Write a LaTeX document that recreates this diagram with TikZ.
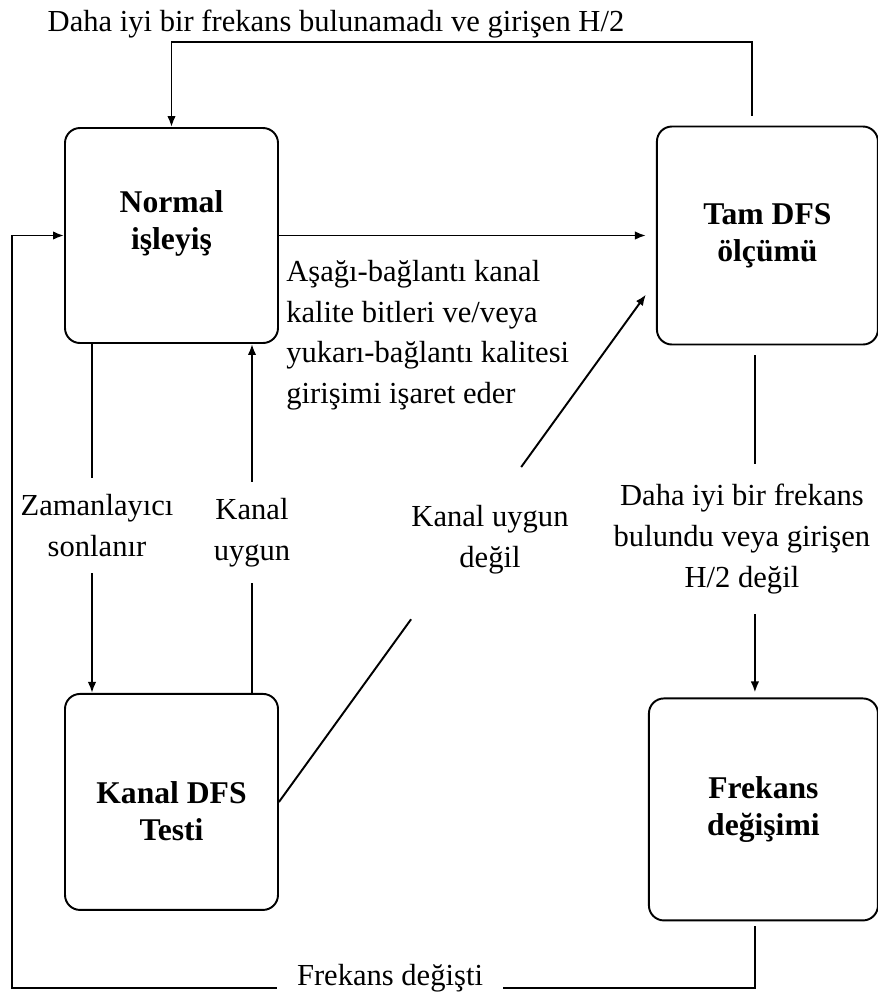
\documentclass[tikz,border=0pt]{standalone}
\usepackage{fontspec}
\setmainfont{Liberation Serif}
\usetikzlibrary{positioning, arrows.meta}

\begin{document}
\begin{tikzpicture}[
        every node/.style={font=\fontsize{17.4}{23.3}\selectfont},
        state/.style={rectangle, draw, line width=1.1pt, rounded corners=0.3cm, align=center, font=\fontsize{18}{21}\selectfont\bfseries, minimum width=4.26cm, minimum height=4.3cm},
        edge/.style={-{Latex[length=0.22cm, width=0.17cm]}, line width=1.1pt},
        line/.style={line width=1.1pt},
        lbl/.style={fill=white, align=center, inner xsep=0.1cm}
    ]
        \useasboundingbox (0,0) rectangle (17.56,-20.02);
        % States
        \node[state, text depth=0.62cm] (normal) at (3.43,-4.71) {Normal\\işleyiş};
        \node[state, right=7.54cm of normal, minimum width=4.42cm, minimum height=4.36cm] (tam) {Tam DFS\\ölçümü};
        \node[state, below=6.98cm of normal, minimum height=4.32cm, text height=1.55cm] (kanal) {Kanal DFS\\Testi};
        \node[state, below=7.04cm of tam, xshift=-0.08cm, minimum width=4.58cm, minimum height=4.44cm] (frek) {Frekans\\değişimi};
        % Normal -> Tam
        \draw[edge, shorten >=0.2cm] (normal.east) -- (tam.west);
        \node[anchor=north west, align=left, inner sep=0] (dqlbl) at (5.72,-5.19) {Aşağı-bağlantı kanal\\kalite bitleri ve/veya\\yukarı-bağlantı kalitesi\\girişimi işaret eder};
        % Tam -> Normal, over the top
        \coordinate (ctop) at (3.43,-0.84);
        \draw[edge, shorten <=0.2cm] ([xshift=-0.31cm]tam.north) |- (ctop) -- (normal.north);
        \node (toplbl) at (6.72,-0.49) {Daha iyi bir frekans bulunamadı ve girişen H/2};
        % Normal <-> Kanal
        \draw[edge] ([xshift=-1.59cm]normal.south) -- node[lbl, pos=.52, inner ysep=0.32cm, xshift=0.1cm] {Zamanlayıcı\\sonlanır} ([xshift=-1.59cm]kanal.north);
        \draw[edge] ([xshift=1.61cm]kanal.north) -- node[lbl, pos=.46, inner ysep=0.32cm] {Kanal\\uygun} ([xshift=1.61cm]normal.south);
        % Kanal -> Tam, diagonal
        \coordinate (dtip) at ([xshift=-0.2cm, yshift=-1.18cm]tam.west);
        \path (kanal.east) -- coordinate[pos=.36] (dlo) coordinate[pos=.66] (dhi) (dtip);
        \draw[line] (kanal.east) -- (dlo);
        \draw[edge] (dhi) -- (dtip);
        \node[align=center] (dlbl) at (9.8,-10.8) {Kanal uygun\\değil};
        % Tam -> Frekans
        \draw[edge, shorten <=0.2cm, shorten >=0.1cm] ([xshift=-0.25cm]tam.south) -- node[lbl, pos=.55, inner ysep=0.4cm, xshift=-0.26cm] {Daha iyi bir frekans\\bulundu veya girişen\\H/2 değil} ([xshift=-0.25cm]tam.south |- frek.north);
        % Frekans -> Normal, round the bottom
        \coordinate (cbot) at (0.24,-19.76);
        \draw[edge, shorten <=0.1cm] ([xshift=-0.17cm]frek.south) |- (cbot) |- (normal.west);
        \node[lbl, inner xsep=0.4cm] (botlbl) at (7.8,-19.56) {Frekans değişti};
\end{tikzpicture}
\end{document}
